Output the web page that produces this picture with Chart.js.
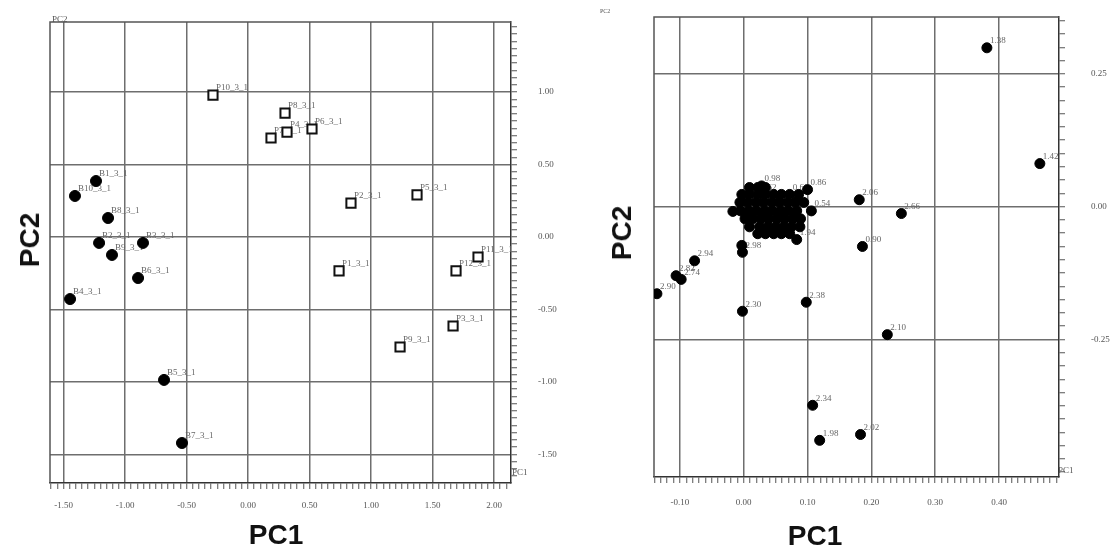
<!DOCTYPE html>
<html><head><meta charset="utf-8">
<script src="https://cdn.jsdelivr.net/npm/chart.js@4/dist/chart.umd.min.js"></script>
<style>
html,body{margin:0;padding:0;background:#fff;width:1114px;height:548px;overflow:hidden;position:relative}
canvas{position:absolute;top:0}
.t{position:absolute;font:bold 28px "Liberation Sans",Arial,sans-serif;color:#111;line-height:1;white-space:nowrap;transform:translate(-50%,-50%)}
.tr{transform:translate(-50%,-50%) rotate(-90deg)}
.s{position:absolute;font:9px "Liberation Serif",serif;color:#555;line-height:1;white-space:nowrap}
</style></head><body>
<canvas id="c1" width="570" height="548" style="left:0"></canvas>
<canvas id="c2" width="544" height="548" style="left:570px"></canvas>
<div class="t" style="left:276px;top:535px">PC1</div>
<div class="t tr" style="left:30px;top:240px">PC2</div>
<div class="t" style="left:815px;top:536px">PC1</div>
<div class="t tr" style="left:622px;top:233px">PC2</div>
<div class="s" style="left:52px;top:15px">PC2</div>
<div class="s" style="left:512px;top:468px">PC1</div>
<div class="s" style="left:600px;top:8px;font-size:6px">PC2</div>
<div class="s" style="left:1058px;top:466px">PC1</div>
<script>
// ---------- Left chart data (PC1, PC2) ----------
const bLabels = ['B1_3_1','B10_3_1','B8_3_1','B2_3_1','B3_3_1','B9_3_1','B6_3_1','B4_3_1','B5_3_1','B7_3_1'];
const bPC1 = [-1.236,-1.407,-1.138,-1.211,-0.854,-1.106,-0.894,-1.447,-0.683,-0.537];
const bPC2 = [0.386,0.283,0.131,-0.041,-0.041,-0.124,-0.283,-0.428,-0.986,-1.421];

const pLabels = ['P10_3_1','P8_3_1','P7_3_1','P4_3_1','P6_3_1','P2_3_1','P5_3_1','P11_3_1','P1_3_1','P12_3_1','P3_3_1','P9_3_1'];
const pPC1 = [-0.285,0.301,0.187,0.317,0.520,0.837,1.374,1.870,0.740,1.691,1.667,1.236];
const pPC2 = [0.979,0.855,0.683,0.724,0.745,0.234,0.290,-0.138,-0.234,-0.234,-0.614,-0.759];

const leftXMajor = [-1.5,-1.0,-0.5,0.0,0.5,1.0,1.5,2.0];
const leftYMajor = [1.0,0.5,0.0,-0.5,-1.0,-1.5];

// ---------- Right chart data (loadings) ----------
const rLabels = ['1.38','1.42','2.06','2.66','0.90','2.10','2.02','2.34','1.98','2.38','2.30','2.90','2.82','2.74','2.94','','2.98','','0.98','0.86','0.54','1.94',
 '','','',
 '','','0.62','','','','0.66','',
 '','','','','','','','','',
 '','','','','0.70','','','',
 '','','','','','','','',
 '','','','','','','',
 '','','','',''];
const rPC1 = [0.381,0.464,0.181,0.247,0.186,0.225,0.183,0.108,0.119,0.098,-0.002,-0.136,-0.106,-0.098,-0.077,-0.003,-0.002,-0.017,0.028,0.100,0.106,0.083,
 0.009,0.022,0.034,
 -0.003,0.009,0.022,0.034,0.047,0.059,0.072,0.086,
 -0.006,0.006,0.019,0.031,0.044,0.056,0.069,0.081,0.094,
 -0.005,0.008,0.020,0.033,0.045,0.058,0.070,0.083,
 0.002,0.014,0.027,0.039,0.052,0.064,0.077,0.089,
 0.009,0.025,0.038,0.050,0.063,0.075,0.088,
 0.022,0.034,0.047,0.059,0.072];
const rPC2 = [0.299,0.081,0.013,-0.013,-0.075,-0.241,-0.429,-0.374,-0.440,-0.180,-0.197,-0.164,-0.130,-0.137,-0.102,-0.073,-0.086,-0.009,0.039,0.032,-0.008,-0.062,
 0.036,0.036,0.036,
 0.023,0.023,0.023,0.023,0.023,0.023,0.023,0.023,
 0.008,0.008,0.008,0.008,0.008,0.008,0.008,0.008,0.008,
 -0.008,-0.008,-0.008,-0.008,-0.008,-0.008,-0.008,-0.008,
 -0.023,-0.023,-0.023,-0.023,-0.023,-0.023,-0.023,-0.023,
 -0.038,-0.038,-0.038,-0.038,-0.038,-0.038,-0.038,
 -0.051,-0.051,-0.051,-0.051,-0.051];

const rightXMajor = [-0.1,0.0,0.1,0.2,0.3,0.4];
const rightYMajor = [0.25,0.0,-0.25];

// ---------- helpers ----------
function pts(xs, ys){ return xs.map((x,i)=>({x:x,y:ys[i]})); }
function makeTicks(min,max,step){
  const out=[]; const k0=Math.ceil(min/step-1e-9), k1=Math.floor(max/step+1e-9);
  for(let k=k0;k<=k1;k++) out.push(Math.round(k*step*1e6)/1e6);
  return out;
}
function findMajor(majors,v){ return majors.find(m=>Math.abs(m-v)<1e-7); }
function axis(pos,min,max,step,majors,pad,size){
  return {
    type:'linear', position:pos, min:min, max:max,
    afterBuildTicks: s => { s.ticks = makeTicks(min,max,step).map(v=>({value:v})); },
    afterFit: s => {
      if(pos==='bottom') s.height=size; else s.width=size;
      s.paddingTop=0; s.paddingBottom=0; s.paddingLeft=0; s.paddingRight=0;
    },
    ticks:{ autoSkip:false, maxRotation:0, minRotation:0, padding:pad, color:'#555',
      font:{family:'"Liberation Serif", serif', size:9},
      callback: v => { const m=findMajor(majors,v); return m===undefined?'':m.toFixed(2); } },
    grid:{ color: c => (c.tick && findMajor(majors,c.tick.value)!==undefined) ? '#6e6e6e' : 'rgba(0,0,0,0)',
      lineWidth:1.5, tickColor:'#555', tickLength:6, tickWidth:1 },
    border:{display:true,color:'#333',width:1.5}
  };
}
const frame = {
  id:'frame',
  beforeDatasetsDraw(chart){
    const a=chart.chartArea, ctx=chart.ctx; ctx.save();
    ctx.strokeStyle='#555'; ctx.lineWidth=1.5;
    ctx.beginPath(); ctx.moveTo(a.left,a.bottom); ctx.lineTo(a.left,a.top); ctx.lineTo(a.right,a.top); ctx.stroke();
    ctx.restore();
  }
};
const pointLabels = {
  id:'pointLabels',
  beforeDatasetsDraw(chart){
    const ctx=chart.ctx; ctx.save();
    ctx.font='9px "Liberation Serif", serif'; ctx.fillStyle='#666'; ctx.textBaseline='middle'; ctx.textAlign='left';
    chart.data.datasets.forEach((ds,di)=>{
      const meta=chart.getDatasetMeta(di);
      (ds.pointLabels||[]).forEach((t,i)=>{ if(!t) return; const el=meta.data[i]; ctx.fillText(t, el.x+3, el.y-7); });
    });
    ctx.restore();
  }
};
const common = {
  responsive:false, animation:false, devicePixelRatio:1,
  plugins:{legend:{display:false}, tooltip:{enabled:false}},
};

new Chart(document.getElementById('c1'), {
  type:'scatter',
  data:{datasets:[
    {data:pts(bPC1,bPC2), pointLabels:bLabels, pointStyle:'circle', radius:5.5, backgroundColor:'#000', borderColor:'#000', borderWidth:1},
    {data:pts(pPC1,pPC2), pointLabels:pLabels, pointStyle:'rect', radius:6.5, backgroundColor:'#fff', borderColor:'#111', borderWidth:2}
  ]},
  options:Object.assign({}, common, {
    layout:{padding:{left:50,top:22,right:0,bottom:0}},
    scales:{
      x: axis('bottom',-1.610,2.138,0.05,leftXMajor,11,65),
      y: axis('right',-1.697,1.483,0.05,leftYMajor,21,59)
    }
  }),
  plugins:[frame,pointLabels]
});

new Chart(document.getElementById('c2'), {
  type:'scatter',
  data:{datasets:[
    {data:pts(rPC1,rPC2), pointLabels:rLabels, pointStyle:'circle', radius:5, backgroundColor:'#000', borderColor:'#000', borderWidth:1}
  ]},
  options:Object.assign({}, common, {
    layout:{padding:{left:84,top:17,right:0,bottom:0}},
    scales:{
      x: axis('bottom',-0.1406,0.494,0.01,rightXMajor,14,71),
      y: axis('right',-0.509,0.357,0.025,rightYMajor,26,55)
    }
  }),
  plugins:[frame,pointLabels]
});
</script>
</body></html>
